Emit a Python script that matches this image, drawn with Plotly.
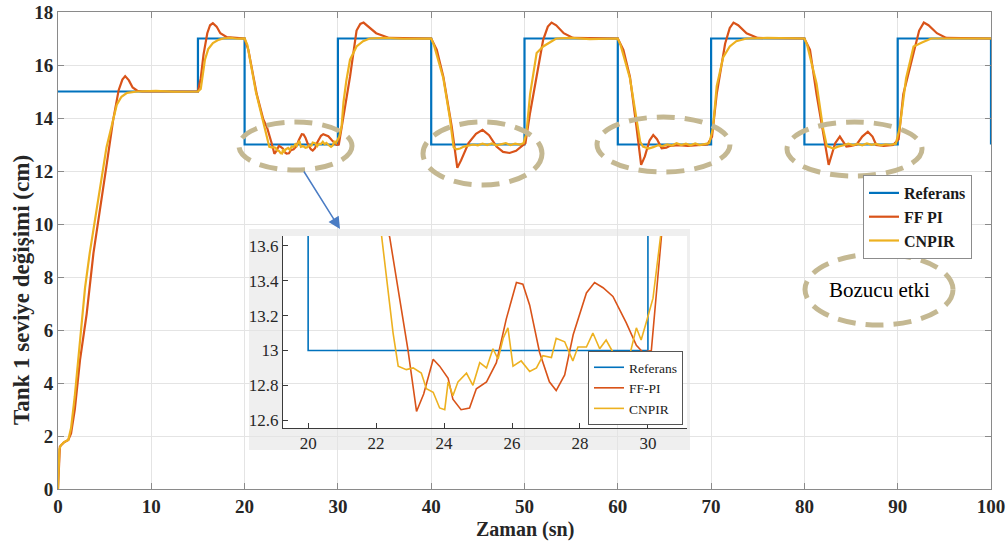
import plotly.graph_objects as go

# ---------------- data ----------------
ref_t = [0, 15, 15, 20, 20, 30, 30, 40, 40, 50, 50, 60, 60, 70, 70, 80, 80, 90, 90, 100, 100]
ref_y = [15, 15, 17, 17, 13, 13, 17, 17, 13, 13, 17, 17, 13, 13, 17, 17, 13, 13, 17, 17, 13]

ff_t = [0, 0.2, 0.6, 1.1, 1.4, 1.8, 2.36, 3.07, 3.8, 4.5, 5.2, 5.9, 6.5, 6.9, 7.2, 7.6, 8.0, 8.5, 9.0, 15.0,
        15.3, 15.6, 16.0, 16.3, 16.6, 17.0, 17.4, 18.1, 19.0, 20.0,
        20.4, 21.3, 22.0, 22.4, 22.94, 23.19, 23.4, 23.68, 23.87, 24.12, 24.26, 24.5, 24.75, 24.95, 25.25,
        25.54, 25.83, 26.13, 26.32, 26.52, 26.81, 27.1, 27.3, 27.55, 27.8, 28.19, 28.43, 28.68, 28.97, 29.36,
        29.66, 29.85, 30.1, 30.2, 30.39, 30.6, 31.3, 32.0, 32.4, 32.75, 33.3, 34.1, 35.5, 40.0,
        40.6, 41.3, 42.2, 42.5, 42.8, 43.2, 44.0, 44.8, 45.5, 46.2, 47.0, 47.7, 48.4, 49.1, 49.7, 50.1, 50.6,
        51.3, 52.0, 52.5, 52.9, 53.4, 54.2, 55.2, 60.0,
        60.6, 61.3, 62.0, 62.5, 62.9, 63.4, 63.8, 64.2, 64.7, 65.2, 65.6, 66.5, 67.5, 68.5, 69.6, 70.1, 70.6,
        71.5, 72.0, 72.4, 72.9, 73.8, 75.0, 80.0,
        80.6, 81.3, 82.0, 82.6, 83.0, 83.3, 83.8, 84.1, 84.5, 85.0, 85.6, 86.2, 86.8, 87.3, 87.7, 88.5, 89.5,
        90.1, 90.6, 91.7, 92.3, 92.8, 93.3, 94.2, 95.2, 100.0]
ff_y = [0, 1.6, 1.75, 1.85, 2.1, 3.0, 4.87, 6.6, 8.9, 10.5, 12.2, 13.9, 15.05, 15.45, 15.58, 15.42, 15.15, 15.03, 15.0, 15.0,
        15.5, 16.4, 17.2, 17.5, 17.58, 17.45, 17.2, 17.05, 17.02, 17.0,
        16.57, 14.9, 13.95, 13.65, 13.0, 12.65, 12.75, 12.95, 12.91, 12.84, 12.72, 12.66, 12.67, 12.78, 12.82,
        12.93, 13.18, 13.39, 13.38, 13.26, 12.99, 12.82, 12.77, 12.86, 13.09, 13.33, 13.39, 13.36, 13.31, 13.16,
        13.03, 12.99, 13.0, 13.22, 13.64, 14.1, 15.56, 17.3, 17.55, 17.6, 17.45, 17.2, 17.02, 17.0,
        16.57, 15.56, 13.67, 12.95, 12.12, 12.4, 13.05, 13.4, 13.55, 13.35, 12.92, 12.72, 12.68, 12.76, 12.92, 13.05, 14.2,
        15.56, 16.95, 17.45, 17.6, 17.5, 17.2, 17.02, 17.0,
        16.57, 15.56, 13.67, 12.23, 12.55, 13.15, 13.36, 13.2, 12.86, 12.88, 12.95, 12.98, 12.95, 12.97, 13.0, 13.3, 14.9,
        16.8, 17.4, 17.6, 17.5, 17.2, 17.02, 17.0,
        16.57, 14.9, 13.4, 12.23, 12.7, 13.05, 13.3, 13.15, 12.92, 12.95, 13.0, 13.3, 13.48, 13.3, 12.98, 12.95, 12.98,
        13.2, 14.9, 16.45, 17.3, 17.6, 17.5, 17.2, 17.02, 17.0]

cn_t = [0, 0.15, 0.3, 0.7, 1.1, 1.4, 1.8, 2.2, 2.5, 2.9, 3.4, 4.0, 4.6, 5.2, 5.75, 6.3, 6.8, 7.4, 8.5, 10.5, 12.5, 15.0,
        15.3, 15.75, 16.1, 16.6, 17.2, 17.7, 18.5, 19.2, 20.0,
        20.3, 21.2, 21.8, 22.16, 22.3, 22.5, 22.65, 22.89, 23.09, 23.33, 23.48, 23.68, 23.87, 24.02, 24.12, 24.26,
        24.41, 24.66, 24.85, 25.05, 25.25, 25.44, 25.59, 25.74, 25.88, 26.03, 26.27, 26.52, 26.72, 26.91, 27.16,
        27.3, 27.55, 27.79, 27.94, 28.19, 28.38, 28.58, 28.77, 28.97, 29.26, 29.46, 29.66, 29.8, 29.95, 30.15,
        30.4, 30.6, 30.9, 31.3, 32.0, 32.7, 33.4, 35.0, 37.0, 40.0,
        40.3, 41.3, 42.0, 42.4, 42.7, 43.1, 43.5, 44.0, 44.5, 45.0, 45.5, 46.0, 46.5, 47.0, 47.5, 48.0, 48.5, 49.0,
        49.5, 49.9, 50.2, 50.6, 51.3, 52.0, 52.7, 53.4, 55.0, 57.0, 60.0,
        60.3, 61.3, 62.0, 62.4, 62.7, 63.3, 63.8, 64.3, 64.8, 65.3, 65.8, 66.3, 66.8, 67.3, 67.8, 68.3, 68.8, 69.3,
        69.8, 70.2, 70.6, 71.3, 72.0, 72.7, 73.8, 76.0, 80.0,
        80.3, 81.3, 82.0, 82.4, 83.1, 83.6, 84.2, 84.7, 85.2, 85.7, 86.2, 86.7, 87.2, 87.7, 88.2, 88.7, 89.2, 89.8,
        90.2, 90.9, 91.7, 92.2, 92.6, 93.6, 96.0, 100.0]
cn_y = [0, 1.5, 1.65, 1.78, 1.85, 2.3, 3.5, 5.0, 6.4, 7.6, 8.9, 10.2, 11.6, 12.9, 13.7, 14.5, 14.8, 14.95, 15.0, 15.02, 14.99, 15.0,
        15.1, 16.2, 16.6, 16.83, 16.95, 17.0, 17.02, 16.99, 17.0,
        16.75, 15.0, 14.1, 13.66, 13.43, 13.1, 12.91, 12.89, 12.9, 12.87, 12.78, 12.76, 12.67, 12.66, 12.82, 12.74,
        12.82, 12.87, 12.8, 12.93, 12.9, 13.01, 12.95, 13.07, 13.13, 12.91, 12.94, 12.88, 12.9, 12.97, 12.96,
        13.07, 13.05, 12.94, 13.02, 13.02, 13.1, 13.01, 13.06, 12.99, 12.91, 12.97, 13.13, 13.06, 13.16, 13.3,
        13.7, 14.6, 15.4, 16.2, 16.7, 16.9, 17.0, 17.02, 16.99, 17.0,
        16.75, 15.5, 14.0, 12.9, 12.82, 12.85, 12.92, 12.95, 13.0, 12.97, 13.03, 12.98, 13.04, 12.97, 13.02, 13.05, 12.98, 13.03,
        13.0, 13.05, 13.4, 14.9, 16.45, 16.7, 16.85, 17.0, 17.02, 16.98, 17.0,
        16.75, 15.5, 13.9, 13.1, 12.92, 12.85, 12.9, 12.97, 12.94, 13.0, 12.96, 13.05, 12.98, 13.03, 12.97, 13.04, 12.98, 13.02,
        13.05, 13.6, 15.2, 16.3, 16.7, 16.9, 17.0, 17.02, 17.0,
        16.75, 15.3, 13.6, 12.95, 12.85, 12.92, 12.97, 13.03, 12.98, 13.02, 12.97, 13.04, 12.99, 13.02, 12.97, 13.01, 12.99, 13.03,
        13.6, 15.5, 16.7, 16.8, 16.85, 17.0, 17.01, 17.0]

main_names = ["Referans", "FF PI", "CNPIR"]
inset_names = ["Referans", "FF-PI", "CNPIR"]
x_ticks = [0, 10, 20, 30, 40, 50, 60, 70, 80, 90, 100]
y_ticks = [0, 2, 4, 6, 8, 10, 12, 14, 16, 18]
inset_x_ticks = [20, 22, 24, 26, 28, 30]
inset_y_ticks = [12.6, 12.8, 13.0, 13.2, 13.4, 13.6]
inset_y_labels = ["12.6", "12.8", "13", "13.2", "13.4", "13.6"]

# ---------------- style ----------------
C_REF, C_FF, C_CN = "#0072BD", "#D95319", "#EDB120"
FONT = "Liberation Serif, Times New Roman, DejaVu Serif, serif"
ELL = "#c4b892"

# pixel geometry helpers (plot area: x 58..991, y 12..489)
L, R, T, B = 58, 991, 12, 489
def PX(p):
    return (p - L) / (R - L)
def PY(p):
    return (B - p) / (B - T)

fig = go.Figure()
series = [(ref_t, ref_y, C_REF), (ff_t, ff_y, C_FF), (cn_t, cn_y, C_CN)]
for (tx, ty, c), nm in zip(series, main_names):
    fig.add_trace(go.Scatter(x=tx, y=ty, mode="lines", name=nm, line=dict(color=c, width=2.2),
                             legend="legend", xaxis="x", yaxis="y"))
for (tx, ty, c), nm in zip(series, inset_names):
    fig.add_trace(go.Scatter(x=tx, y=ty, mode="lines", name=nm, line=dict(color=c, width=1.6),
                             legend="legend2", xaxis="x2", yaxis="y2"))

axis_common = dict(showline=True, linecolor="#8a8a8a", linewidth=1, mirror="ticks", ticks="inside",
                   ticklen=6, tickcolor="#8a8a8a", showgrid=True, gridcolor="#e4e4e4", zeroline=False,
                   automargin=False,
                   tickfont=dict(family=FONT, size=19, color="#262626", weight="bold"))

inset_common = dict(showline=True, linecolor="#3a3a3a", linewidth=1, mirror=False, ticks="inside",
                    ticklen=5, tickcolor="#3a3a3a", showgrid=False, zeroline=False, automargin=False,
                    tickfont=dict(family=FONT, size=17, color="#262626"))

fig.update_layout(
    width=1008, height=546,
    font=dict(family=FONT),
    margin=dict(l=L, r=1008 - R, t=T, b=546 - B, autoexpand=False),
    paper_bgcolor="white", plot_bgcolor="rgba(0,0,0,0)",
    xaxis=dict(range=[0, 100], tickvals=x_ticks, **axis_common),
    yaxis=dict(range=[0, 18], tickvals=y_ticks, **axis_common),
    xaxis2=dict(domain=[PX(283), PX(687)], anchor="y2", range=[19.26, 31.15],
                tickvals=inset_x_ticks, **inset_common),
    yaxis2=dict(domain=[PY(428), PY(236)], anchor="x2", range=[12.555, 13.657],
                tickvals=inset_y_ticks, ticktext=inset_y_labels, **inset_common),
    legend=dict(x=PX(972), y=PY(175), xanchor="right", yanchor="top", bgcolor="white",
                bordercolor="#8c8c8c", borderwidth=1, itemwidth=30, tracegroupgap=0,
                font=dict(family=FONT, size=16, color="#1a1a1a", weight="bold")),
    legend2=dict(x=PX(683), y=PY(425), xanchor="right", yanchor="bottom", bgcolor="white",
                 bordercolor="#555555", borderwidth=1, itemwidth=30, tracegroupgap=0,
                 font=dict(family=FONT, size=13.5, color="#1a1a1a")),
    showlegend=True,
)

shapes = []
# inset background (grey) and white plotting area
shapes.append(dict(type="rect", xref="paper", yref="paper", x0=PX(249), x1=PX(690), y0=PY(450), y1=PY(229),
                   fillcolor="#efefef", line=dict(width=0), layer="below"))
shapes.append(dict(type="rect", xref="paper", yref="paper", x0=PX(283), x1=PX(687), y0=PY(428), y1=PY(236),
                   fillcolor="white", line=dict(width=0), layer="below"))
# dashed ellipses
for (x0, y0, x1, y1) in [(239, 122, 352, 170), (423, 122, 542, 185), (597, 117, 730, 172),
                         (787, 122, 922, 176), (805, 254, 953, 325)]:
    shapes.append(dict(type="circle", xref="paper", yref="paper", x0=PX(x0), x1=PX(x1), y0=PY(y1), y1=PY(y0),
                       line=dict(color=ELL, width=5, dash="18px,10px"), layer="above"))
fig.update_layout(shapes=shapes)

fig.add_annotation(x=PX(879), y=PY(290), xref="paper", yref="paper", text="Bozucu etki", showarrow=False,
                   xanchor="center", yanchor="middle",
                   font=dict(family=FONT, size=21, color="black"))
fig.add_annotation(x=PX(340), y=PY(229), xref="paper", yref="paper", text="", showarrow=True,
                   ax=-37, ay=-59, arrowhead=2, arrowsize=1.6, arrowwidth=1.5, arrowcolor="#4a7cc4", standoff=0)
fig.add_annotation(x=PX(21), y=PY(290), xref="paper", yref="paper", text="Tank 1 seviye değişimi (cm)",
                   textangle=-90, showarrow=False, xanchor="center", yanchor="middle",
                   font=dict(family=FONT, size=23, color="#262626", weight="bold"))
fig.add_annotation(x=0.5, y=PY(529), xref="paper", yref="paper", text="Zaman (sn)", showarrow=False,
                   xanchor="center", yanchor="middle",
                   font=dict(family=FONT, size=20, color="#262626", weight="bold"))

fig.write_html("out.html")
